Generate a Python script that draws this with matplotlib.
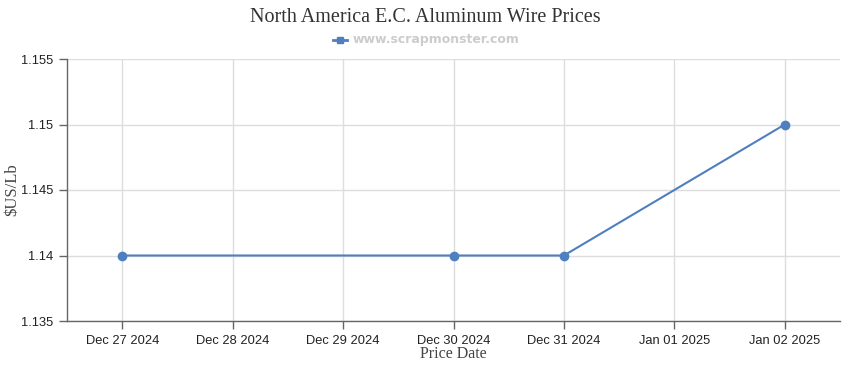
import matplotlib.pyplot as plt
from datetime import datetime, timedelta

# Data
fechas = ["2024-12-27", "2024-12-30", "2024-12-31", "2025-01-02"]
precios = [1.14, 1.14, 1.14, 1.15]
y_ticks = [1.135, 1.14, 1.145, 1.15, 1.155]
y_tick_labels = ["1.135", "1.14", "1.145", "1.15", "1.155"]

fechas_dt = [datetime.strptime(f, "%Y-%m-%d") for f in fechas]
color_linea = '#4f7fbf'

fig = plt.figure(figsize=(8.5, 3.7), dpi=100)
ax = fig.add_axes([67 / 850, 49 / 370, 773 / 850, 262 / 370])

ax.plot(fechas_dt, precios, color=color_linea, linewidth=1.5,
        marker='o', markersize=6, zorder=3, clip_on=False)

# Limites y ticks
inicio = fechas_dt[0] - timedelta(hours=12)
fin = fechas_dt[-1] + timedelta(hours=12)
ax.set_xlim(inicio, fin)
ax.set_ylim(1.135, 1.155)
dias = [fechas_dt[0] + timedelta(days=i) for i in range(7)]
ax.set_xticks(dias)
ax.set_xticklabels([d.strftime("%b %d %Y") for d in dias])
ax.set_yticks(y_ticks)
ax.set_yticklabels(y_tick_labels)

ax.grid(True, color='#dddddd', linewidth=1)
ax.set_axisbelow(True)
for lado in ['top', 'right']:
    ax.spines[lado].set_visible(False)
for lado in ['left', 'bottom']:
    ax.spines[lado].set_color('#666666')
    ax.spines[lado].set_linewidth(1)
ax.tick_params(axis='both', colors='#666666', length=6, width=1,
               labelcolor='#222222', labelsize=9.3, pad=4)
for lbl in ax.get_xticklabels() + ax.get_yticklabels():
    lbl.set_family('Liberation Sans')

# Textos
fig.text(0.5, 1 - 17 / 370, "North America E.C. Aluminum Wire Prices",
         ha='center', va='center', family='Liberation Serif', fontsize=14.5,
         color='#333333')
fig.text(453.5 / 850, 1 - 354 / 370, "Price Date", ha='center', va='center',
         family='Liberation Serif', fontsize=11.5, color='#444444')
fig.text(12 / 850, 1 - 190 / 370, "$US/Lb", ha='center', va='center',
         rotation=90, family='Liberation Serif', fontsize=12, color='#444444')

# Leyenda
fig.lines.append(plt.Line2D([333 / 850, 347 / 850], [1 - 40 / 370] * 2,
                            transform=fig.transFigure, color=color_linea,
                            linewidth=2))
fig.lines.append(plt.Line2D([340 / 850], [1 - 40 / 370],
                            transform=fig.transFigure, color=color_linea,
                            marker='s', markersize=5, ls='none'))
fig.text(353 / 850, 1 - 40 / 370, "www.scrapmonster.com", ha='left',
         va='center', family='DejaVu Sans', fontsize=9, fontweight='bold',
         color='#cccccc')

fig.savefig("out.png", dpi=100)
